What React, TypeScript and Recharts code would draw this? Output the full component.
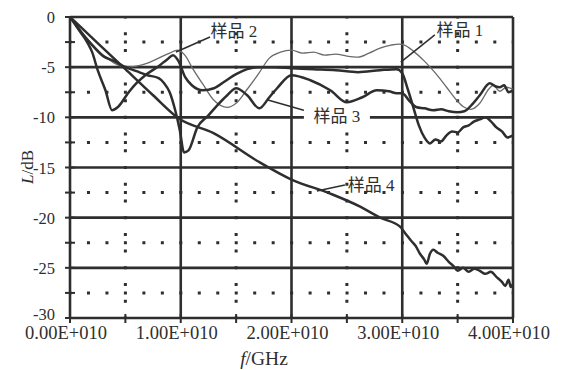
import React from 'react';
import { LineChart, Line, XAxis, YAxis, ReferenceLine, ReferenceDot } from 'recharts';

// frequencies in units of 1e10 Hz, loss in dB
const s1F = [0, 0.1, 0.2, 0.3, 0.4, 0.5, 0.6, 0.7, 0.8, 0.9, 0.97, 1.05, 1.1, 1.2, 1.3, 1.42, 1.5, 1.6, 1.7, 1.8, 1.9, 2.0, 2.1, 2.2, 2.3, 2.4, 2.5, 2.6, 2.7, 2.8, 2.9, 2.97, 3.02, 3.1, 3.2, 3.3, 3.4, 3.5, 3.56, 3.62, 3.7, 3.78, 3.82, 3.88, 3.94, 4.0];
const s1L = [0, -1.4, -2.7, -3.8, -4.6, -5.0, -4.9, -4.6, -4.1, -3.6, -3.3, -4.0, -5.0, -6.7, -8.3, -9.0, -8.6, -7.2, -5.7, -4.1, -3.5, -3.3, -3.6, -3.5, -3.8, -3.7, -3.9, -4.0, -3.6, -3.1, -2.8, -2.7, -2.8, -3.4, -4.4, -5.6, -7.0, -8.4, -9.0, -9.2, -8.6, -7.2, -6.8, -7.4, -7.0, -7.2];

const s2F = [0, 0.05, 0.1, 0.16, 0.2, 0.25, 0.32, 0.38, 0.43, 0.53, 0.6, 0.68, 0.8, 0.88, 0.93, 0.98, 1.04, 1.1, 1.2, 1.3, 1.4, 1.5, 1.6, 1.7, 1.85, 2.0, 2.2, 2.4, 2.6, 2.8, 2.95, 3.0, 3.05, 3.1, 3.15, 3.2, 3.25, 3.3, 3.35, 3.4, 3.45, 3.5, 3.55, 3.6, 3.65, 3.7, 3.75, 3.8, 3.85, 3.9, 3.95, 4.0];
const s2L = [0, -0.8, -1.6, -2.6, -3.5, -5.3, -7.3, -9.3, -9.0, -7.5, -6.6, -5.8, -4.9, -4.2, -3.8, -4.4, -6.0, -6.8, -7.3, -7.1, -6.4, -5.7, -5.2, -5.0, -5.0, -5.1, -5.2, -5.3, -5.5, -5.3, -5.2, -5.6, -7.2, -9.0, -10.8, -12.0, -12.6, -12.2, -12.4, -11.8, -11.4, -11.5, -11.0, -10.8, -10.4, -10.2, -10.0, -10.4, -11.0, -11.4, -12.0, -11.8];

const s3F = [0, 0.05, 0.1, 0.2, 0.3, 0.4, 0.5, 0.6, 0.7, 0.8, 0.85, 0.9, 0.95, 0.99, 1.03, 1.07, 1.15, 1.25, 1.33, 1.42, 1.5, 1.6, 1.71, 1.8, 1.87, 2.0, 2.17, 2.35, 2.5, 2.64, 2.77, 2.88, 2.95, 3.0, 3.06, 3.13, 3.2, 3.28, 3.35, 3.42, 3.5, 3.56, 3.64, 3.7, 3.79, 3.84, 3.88, 3.92, 3.96, 4.0];
const s3L = [0, -0.7, -1.5, -2.8, -3.9, -4.4, -5.0, -5.4, -5.8, -6.1, -6.6, -7.5, -9.3, -11.2, -13.5, -13.3, -11.0, -9.8, -8.8, -7.8, -7.1, -7.8, -9.1, -8.0, -7.1, -5.8, -6.3, -7.3, -8.5, -8.0, -7.3, -7.4, -7.6, -7.6, -8.3, -9.0, -9.1, -9.3, -9.2, -9.4, -9.5, -9.4, -8.6, -7.8, -6.6, -6.9, -7.0, -6.8, -7.5, -7.3];

const s4F = [0, 0.25, 0.5, 0.75, 0.98, 1.3, 1.7, 2.0, 2.35, 2.62, 2.8, 2.98, 3.03, 3.08, 3.12, 3.16, 3.2, 3.22, 3.25, 3.28, 3.32, 3.37, 3.42, 3.47, 3.5, 3.55, 3.6, 3.65, 3.7, 3.75, 3.8, 3.85, 3.9, 3.93, 3.96, 3.98, 4.0];
const s4L = [0, -2.6, -5.2, -7.8, -10.1, -11.6, -14.4, -16.2, -17.6, -18.9, -20.0, -20.9, -21.6, -22.3, -22.8, -23.6, -24.2, -24.6, -23.6, -23.2, -23.5, -23.8, -24.4, -24.9, -25.3, -25.0, -25.4, -25.1, -25.3, -25.6, -25.4, -25.9, -26.4, -26.8, -26.2, -26.9, -26.6];

const seriesNames = ['样品 1', '样品 2', '样品 3', '样品 4'];

// label anchors (text centre) and leader lines, data units
const labelF = [3.52, 1.48, 2.41, 2.72];
const labelL = [-1.3, -1.39, -9.87, -16.75];
const leaderF1 = [3.294, 1.264, 2.166, 2.482];
const leaderL1 = [-1.79, -1.99, -9.47, -16.74];
const leaderF2 = [2.987, 0.957, 1.787, 2.229];
const leaderL2 = [-4.49, -3.49, -8.27, -17.34];

const xMajor = [0, 1, 2, 3, 4];
const xMinor = [0.5, 1.5, 2.5, 3.5];
const xTickLabels = ['0.00E+010', '1.00E+010', '2.00E+010', '3.00E+010', '4.00E+010'];
const yMajor = [0, -5, -10, -15, -20, -25, -30];
const yMinor = [-2.5, -7.5, -12.5, -17.5, -22.5, -27.5];
const yTickLabels = ['0', '-5', '-10', '-15', '-20', '-25', '-30'];

const E10 = 1e10;
const toData = (f: number[], l: number[]) => f.map((v, i) => ({ f: v * E10, l: l[i] }));
const data1 = toData(s1F, s1L);
const data2 = toData(s2F, s2L);
const data3 = toData(s3F, s3L);
const data4 = toData(s4F, s4L);

const INK = '#2e2e2e';
const SERIF = "'Liberation Serif', 'Times New Roman', serif";
const CJK = "'Liberation Serif', 'Noto Sans CJK SC', serif";

const XTick = (p: any) => {
  const v = p.payload.value / E10;
  const i = xMajor.indexOf(Math.round(v * 100) / 100);
  return (
    <g>
      <line x1={p.x} x2={p.x} y1={p.y - 4} y2={p.y + 5} stroke={INK} strokeWidth={2} />
      {i >= 0 && (
        <text x={p.x - 4} y={p.y + 21} textAnchor="middle" fontFamily={SERIF} fontSize={18.5} fill={INK}>
          {xTickLabels[i]}
        </text>
      )}
    </g>
  );
};

const YTick = (p: any) => {
  const i = yMajor.indexOf(p.payload.value);
  const dy = i === yMajor.length - 1 ? 2 : 6;
  return (
    <g>
      <line x1={p.x - 5} x2={p.x + 5} y1={p.y} y2={p.y} stroke={INK} strokeWidth={2} />
      {i >= 0 && (
        <text x={p.x - 15} y={p.y + dy} textAnchor="end" fontFamily={SERIF} fontSize={16.5} fill={INK}>
          {yTickLabels[i]}
        </text>
      )}
    </g>
  );
};

const makeLabel = (idx: number) => (p: any) => (
  <g>
    {idx === 2 && <rect x={p.cx - 33} y={p.cy - 10} width={66} height={20} fill="#fff" />}
    <text x={p.cx} y={p.cy + 6} textAnchor="middle" fontFamily={CJK} fontSize={17} fill={INK}>
      {seriesNames[idx]}
    </text>
  </g>
);

export default function App() {
  return (
    <div style={{ position: 'absolute', left: 0, top: 0, background: '#fff' }}>
      <LineChart width={563} height={370} margin={{ top: 17, right: 50, bottom: 0, left: 0 }}>
        <XAxis
          dataKey="f"
          type="number"
          domain={[0, 4 * E10]}
          ticks={[...xMajor, ...xMinor].sort((a, b) => a - b).map((v) => v * E10)}
          tick={<XTick />}
          tickLine={false}
          axisLine={false}
          tickSize={0}
          tickMargin={0}
          height={52}
          interval={0}
          allowDataOverflow
        />
        <YAxis
          type="number"
          domain={[-30, 0]}
          ticks={[...yMajor, ...yMinor].sort((a, b) => b - a)}
          tick={<YTick />}
          tickLine={false}
          axisLine={false}
          tickSize={0}
          tickMargin={0}
          width={70}
          interval={0}
          allowDataOverflow
        />
        {yMinor.map((v) => (
          <ReferenceLine key={'hy' + v} y={v} stroke={INK} strokeWidth={3} strokeDasharray="3 15.47" strokeDashoffset={1.5} />
        ))}
        {xMinor.map((v) => (
          <ReferenceLine key={'hx' + v} x={v * E10} stroke={INK} strokeWidth={3} strokeDasharray="3 13.72" strokeDashoffset={1.5} />
        ))}
        {yMajor.map((v) => (
          <ReferenceLine key={'my' + v} y={v} stroke={INK} strokeWidth={2.6} />
        ))}
        {xMajor.map((v) => (
          <ReferenceLine key={'mx' + v} x={v * E10} stroke={INK} strokeWidth={2.6} />
        ))}
        <Line data={data1} dataKey="l" type="monotone" stroke="#6a6a6a" strokeWidth={1.3} dot={false} isAnimationActive={false} />
        <Line data={data2} dataKey="l" type="monotone" stroke={INK} strokeWidth={2.5} dot={false} isAnimationActive={false} />
        <Line data={data3} dataKey="l" type="monotone" stroke={INK} strokeWidth={2.5} dot={false} isAnimationActive={false} />
        <Line data={data4} dataKey="l" type="monotone" stroke={INK} strokeWidth={2.5} dot={false} isAnimationActive={false} />
        {seriesNames.map((_, i) => (
          <ReferenceLine
            key={'ld' + i}
            segment={[
              { x: leaderF1[i] * E10, y: leaderL1[i] },
              { x: leaderF2[i] * E10, y: leaderL2[i] },
            ]}
            stroke={INK}
            strokeWidth={1.5}
          />
        ))}
        {seriesNames.map((_, i) => (
          <ReferenceDot key={'lb' + i} x={labelF[i] * E10} y={labelL[i]} r={1} shape={makeLabel(i)} />
        ))}
      </LineChart>
      <svg width={563} height={370} style={{ position: 'absolute', left: 0, top: 0, pointerEvents: 'none' }}>
        <text x={27} y={167} transform="rotate(-90 27 167)" textAnchor="middle" dominantBaseline="central" fontFamily={SERIF} fontSize={17} fill={INK}>
          <tspan fontStyle="italic">L</tspan>/dB
        </text>
        <text x={264} y={365} textAnchor="middle" fontFamily={SERIF} fontSize={19.5} fill={INK}>
          <tspan fontStyle="italic">f</tspan>/GHz
        </text>
      </svg>
    </div>
  );
}
